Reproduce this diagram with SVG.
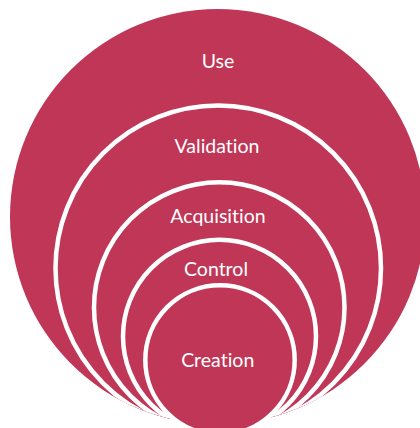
<svg xmlns="http://www.w3.org/2000/svg" width="420" height="428" viewBox="0 0 420 428">
  <style>
    .fill { fill: #C03657; }
    .ring { fill: #C03657; stroke: #FFFFFF; stroke-width: 4.5; }
    .label { fill: #FFFFFF; font-family: Lato, "Noto Sans", sans-serif; font-size: 19.5px; text-anchor: middle; font-variant-ligatures: none; font-feature-settings: "liga" 0, "clig" 0; }
  </style>
  <defs>
    <clipPath id="outerClip">
      <circle cx="217.7" cy="216.7" r="207.7"/>
    </clipPath>
  </defs>
  <rect width="420" height="428" fill="#FFFFFF"/>
  <g id="use">
    <circle class="fill" cx="217.7" cy="216.7" r="207.7"/>
    <text class="label" x="218" y="68">Use</text>
  </g>
  <g id="validation" clip-path="url(#outerClip)">
    <circle class="ring" cx="218.25" cy="268.25" r="162.75"/>
    <text class="label" x="217" y="153">Validation</text>
  </g>
  <g id="acquisition" clip-path="url(#outerClip)">
    <circle class="ring" cx="219.25" cy="307.5" r="125.25"/>
    <text class="label" x="218" y="222.7">Acquisition</text>
  </g>
  <g id="control" clip-path="url(#outerClip)">
    <circle class="ring" cx="219.5" cy="336.3" r="96.5"/>
    <text class="label" x="216" y="275.8">Control</text>
  </g>
  <g id="creation">
    <circle class="ring" cx="220" cy="360" r="74.7"/>
    <text class="label" x="217.7" y="367">Creation</text>
  </g>
  <g id="connectors"/>
</svg>
